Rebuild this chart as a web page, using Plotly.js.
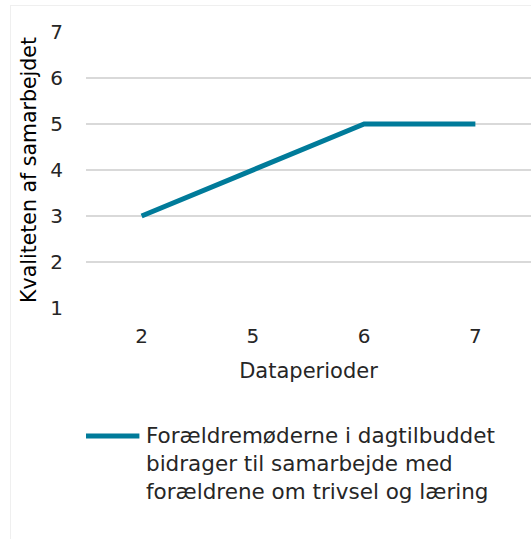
<!DOCTYPE html>
<html>
<head>
<meta charset="utf-8">
<script src="https://cdn.plot.ly/plotly-3.0.1.min.js"></script>
<style>
html,body{margin:0;padding:0;background:#fff;}
#wrap{position:relative;width:531px;height:539px;overflow:hidden;}
#chart{width:531px;height:539px;}
#frame{position:absolute;left:10px;top:5px;width:530px;height:540px;border:1.5px solid #efefef;pointer-events:none;}
</style>
</head>
<body>
<div id="wrap">
<div id="chart"></div>
<div id="frame"></div>
</div>
<script>
const categories = ["2", "5", "6", "7"];
const values = [3, 4, 5, 5];
const seriesName = "Forældremøderne i dagtilbuddet<br>bidrager til samarbejde med<br>forældrene om trivsel og læring";
const yTicks = [1, 2, 3, 4, 5, 6, 7];
const xTitle = "Dataperioder";
const yTitle = "Kvaliteten af samarbejdet";

const font = "Verdana, 'DejaVu Sans', sans-serif";
const lineColor = "#007B9A";

const trace = {
  type: "scatter",
  mode: "lines",
  x: categories,
  y: values,
  name: seriesName,
  line: {color: lineColor, width: 5},
  hoverinfo: "skip",
  showlegend: false
};

const layout = {
  width: 531,
  height: 539,
  margin: {l: 86, r: 0, t: 32, b: 231},
  paper_bgcolor: "#ffffff",
  plot_bgcolor: "#ffffff",
  font: {family: font, color: "#262626", size: 20},
  showlegend: false,
  xaxis: {
    type: "category",
    range: [-0.5, categories.length - 0.5],
    showgrid: false,
    zeroline: false,
    showline: false,
    ticks: "",
    tickfont: {size: 20, color: "#262626"},
    ticklabelstandoff: 14,
    title: {text: xTitle, font: {size: 21, color: "#262626"}, standoff: 16}
  },
  yaxis: {
    range: [1, 7],
    tickvals: yTicks,
    showgrid: true,
    gridcolor: "#d9d9d9",
    gridwidth: 1.6,
    zeroline: false,
    showline: false,
    ticks: "",
    tickfont: {size: 20, color: "#262626"},
    ticklabelstandoff: 22,
    title: {text: yTitle, font: {size: 20.5, color: "#000000"}, standoff: 8}
  },
  shapes: [{
    type: "line",
    xref: "paper", yref: "paper",
    x0: 0.0, x1: 0.12, y0: -0.4638, y1: -0.4638,
    line: {color: lineColor, width: 5}
  }],
  annotations: [{
    xref: "paper", yref: "paper",
    x: 0.13, y: -0.41,
    xanchor: "left", yanchor: "top",
    align: "left",
    showarrow: false,
    text: seriesName,
    font: {size: 21.5, color: "#262626"}
  }]
};

Plotly.newPlot("chart", [trace], layout, {displayModeBar: false, staticPlot: true});
</script>
</body>
</html>
